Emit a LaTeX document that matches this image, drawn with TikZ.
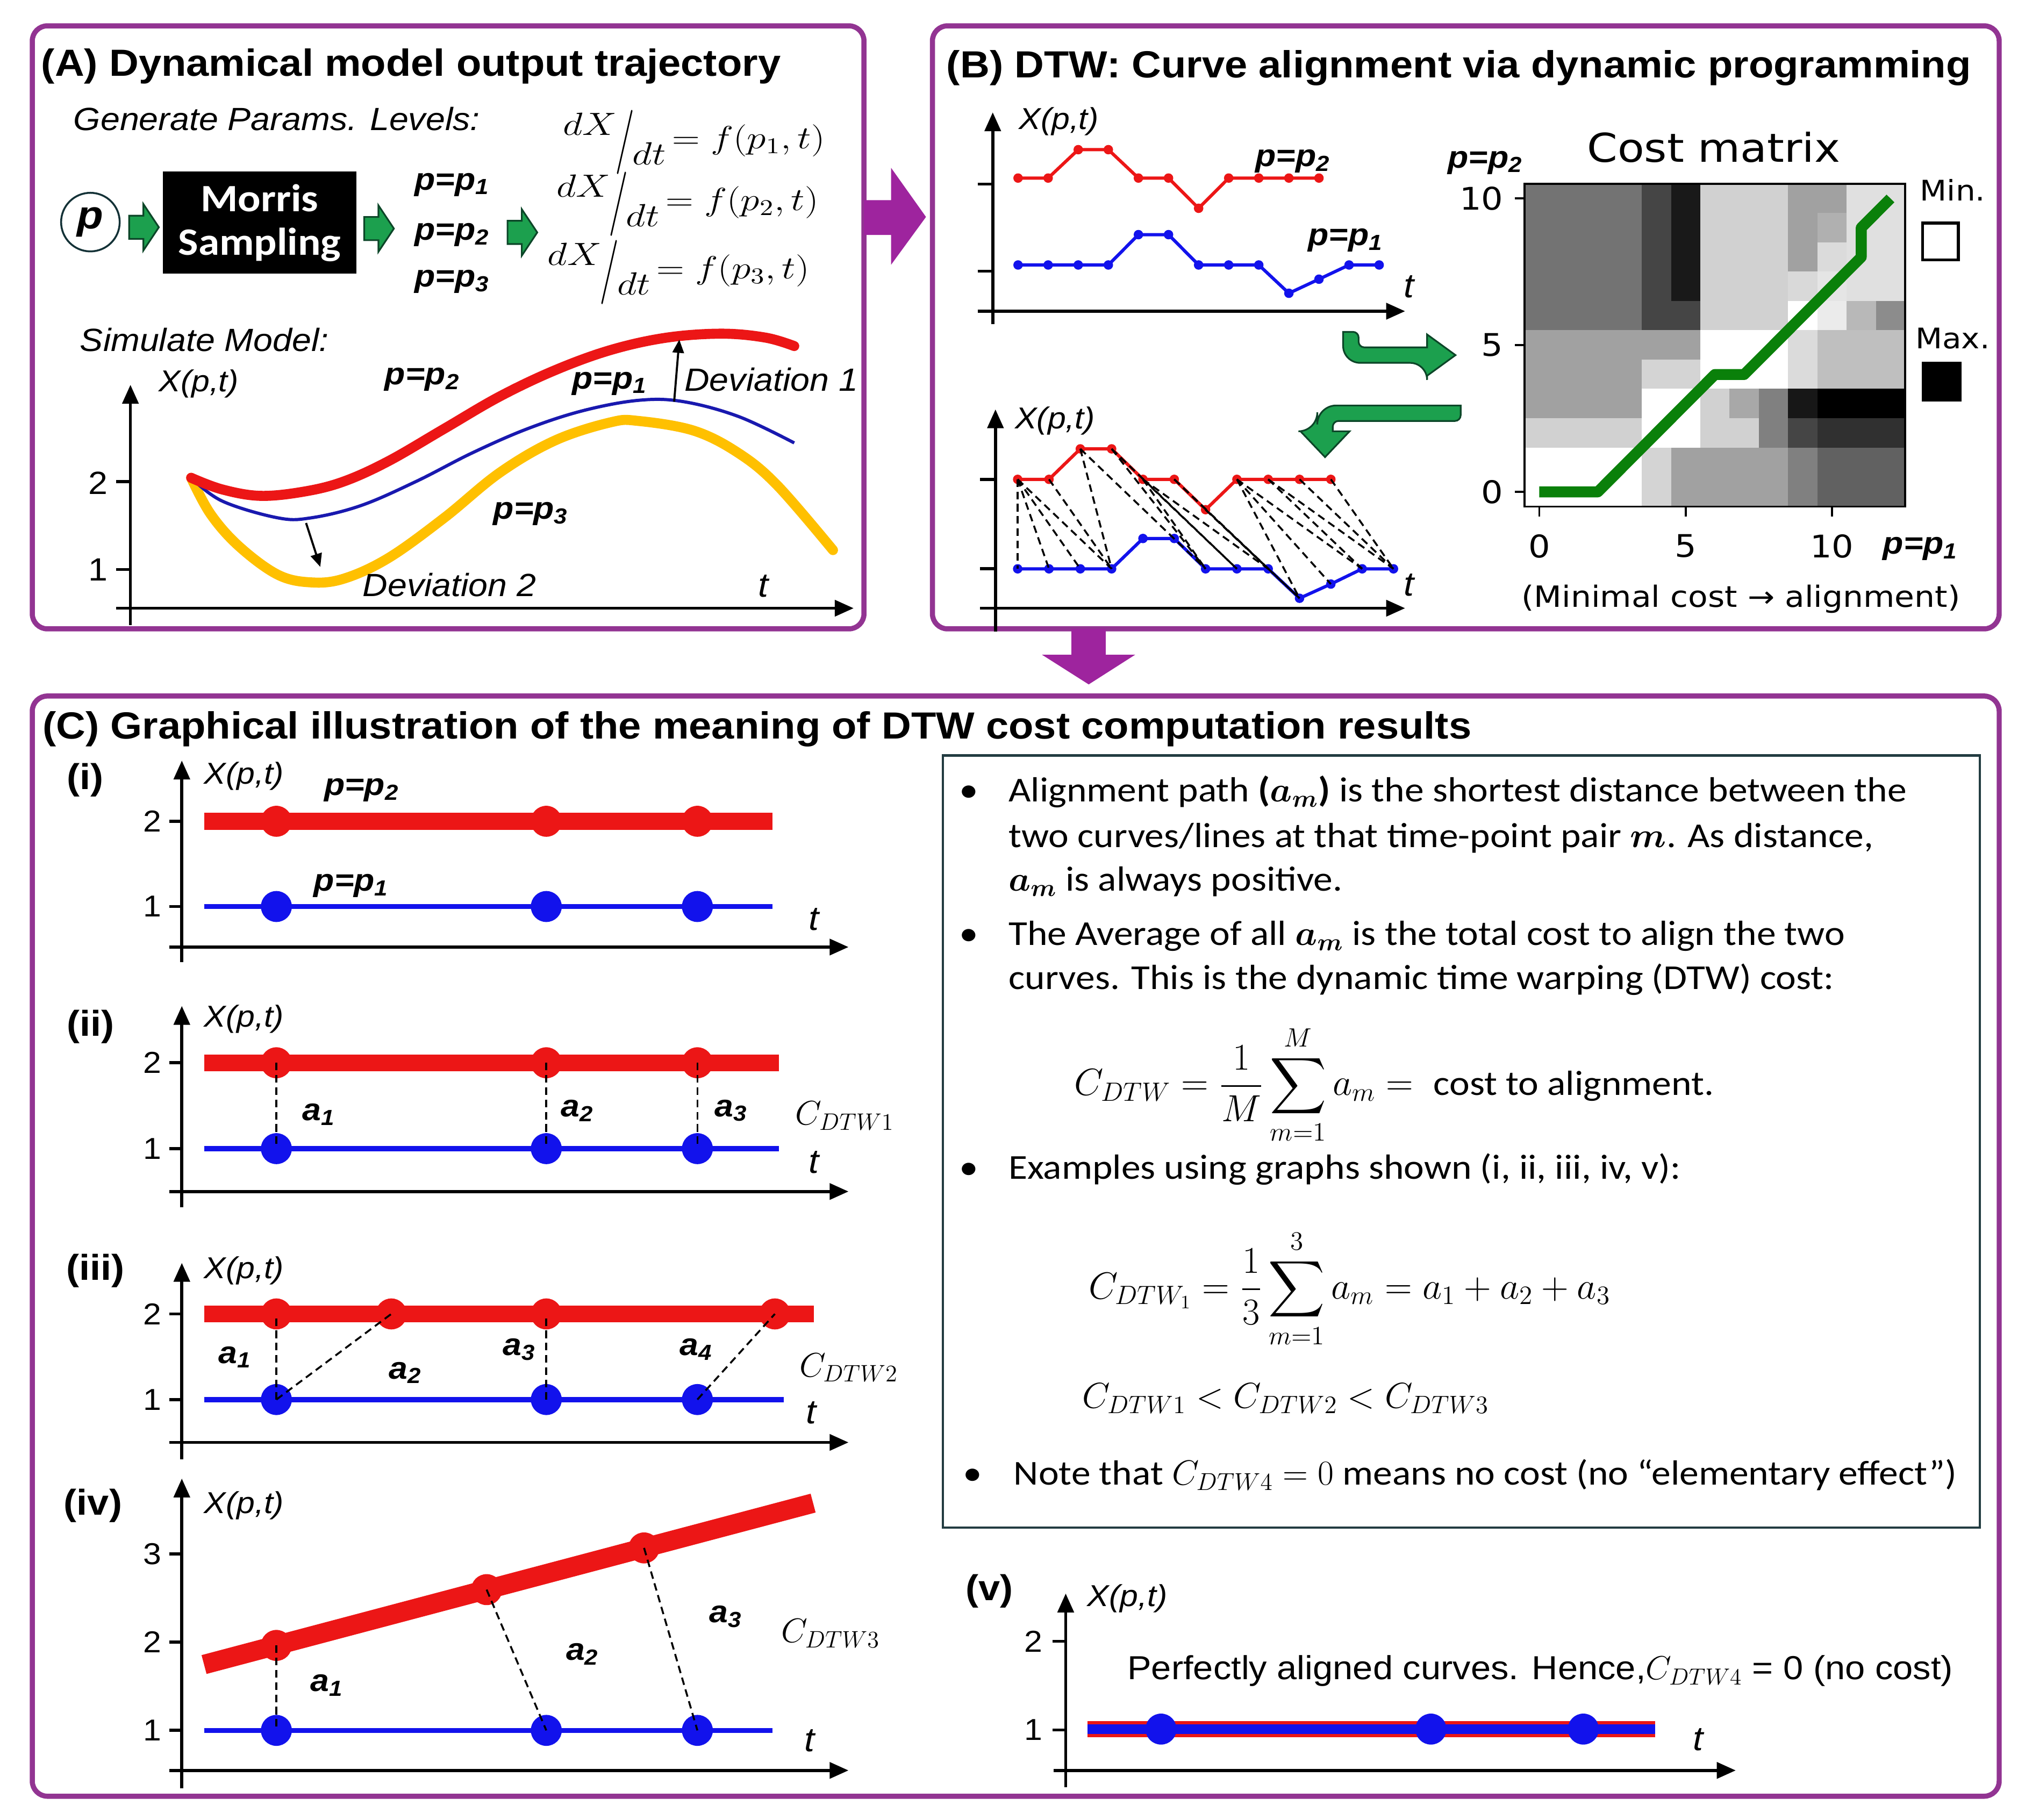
\RequirePackage{fix-cm}
\documentclass[tikz,border=0pt]{standalone}
\usepackage{fontspec}
\usepackage{amsmath}
\usepackage{bm}
\usepackage{graphicx}
\setmainfont{Liberation Sans}[FakeStretch=1.08]
\newfontfamily\cfont{Carlito}[FakeStretch=1.1]
\newfontfamily\dvs{DejaVu Sans}[FakeStretch=1.1]
\usetikzlibrary{arrows.meta}
\definecolor{pborder}{RGB}{146,52,146}
\definecolor{pfill}{RGB}{158,36,158}
\definecolor{garr}{RGB}{28,160,78}
\definecolor{gdark}{RGB}{12,70,40}
\definecolor{cred}{RGB}{236,22,22}
\definecolor{cblue}{RGB}{18,18,236}
\definecolor{ablue}{RGB}{25,25,175}
\definecolor{cyel}{RGB}{255,192,0}
\definecolor{mgreen}{RGB}{10,128,10}
\definecolor{tbox}{RGB}{35,60,65}
\definecolor{cdark}{RGB}{20,50,55}
\newcommand{\fsz}[1]{\fontsize{#1}{#1}\selectfont}
\newcommand{\dxdt}{\raisebox{0.42em}{$dX$}\kern-0.05em\raisebox{-0.3em}{\scalebox{1.1}[2.0]{$/$}}\kern-0.05em\raisebox{-0.5em}{$dt$}}
\newcommand{\gblk}[2]{\draw[garrow] (#1,{#2-9}) -- ({#1+11},{#2-9}) -- ({#1+11},{#2-18}) -- ({#1+23},#2) -- ({#1+11},{#2+18}) -- ({#1+11},{#2+9}) -- (#1,{#2+9}) -- cycle;}
\begin{document}
\begin{tikzpicture}[x=0.024024cm, y=-0.024024cm,
  lbl/.style={inner sep=0pt, outer sep=0pt},
  ttl/.style={lbl, anchor=base west, font=\fsz{20}\bfseries},
  itl/.style={lbl, font=\fsz{17}\itshape},
  xpt/.style={lbl, anchor=west, font=\fsz{16}\itshape},
  bit/.style={lbl, font=\fsz{16.5}\bfseries\itshape},
  tk/.style={lbl, font=\fsz{16}},
  rom/.style={lbl, font=\fsz{19}\bfseries},
  cml/.style={lbl, anchor=west, font=\fsz{18}},
  panel/.style={draw=pborder, line width=2.7pt, rounded corners=8pt},
  parr/.style={fill=pfill, draw=none},
  garrow/.style={fill=garr, draw=gdark, line width=0.9pt},
  axarr/.style={line width=1.6pt, -{Triangle[length=10pt,width=8.5pt]}},
  tkl/.style={line width=1.6pt},
  rsm/.style={circle, fill=cred, inner sep=0pt, minimum size=5pt},
  bsm/.style={circle, fill=cblue, inner sep=0pt, minimum size=5pt},
  rbig/.style={circle, fill=cred, inner sep=0pt, minimum size=16.4pt},
  bbig/.style={circle, fill=cblue, inner sep=0pt, minimum size=16.4pt},
  rthin/.style={draw=cred, line width=1.7pt, line join=round},
  bthin/.style={draw=cblue, line width=1.7pt, line join=round},
  dsh/.style={draw=black, line width=1pt, dash pattern=on 4pt off 2.5pt},
  devarr/.style={line width=1.1pt, -{Triangle[length=7pt,width=6pt]}},
  body/.style={lbl, anchor=base west, font=\cfont\fsz{18.5}},
  bul/.style={lbl, anchor=base, font=\cfont\fsz{18.5}}
]
\useasboundingbox (0,0) rectangle (1568,1409);
\fill[white] (0,0) rectangle (1568,1409);

% ================= panels =================
\draw[panel] (25,20) rectangle (669,487);
\draw[panel] (722,20) rectangle (1548,487);
\draw[panel] (25,539) rectangle (1548,1391);
\fill[parr] (669,155) -- (690,155) -- (690,130) -- (717,168) -- (690,205) -- (690,182) -- (669,182) -- cycle;
\fill[parr] (829.6,487) -- (856.2,487) -- (856.2,507) -- (879,507) -- (843,530) -- (806.8,507) -- (829.6,507) -- cycle;

% ================= panel A =================
\node[ttl] (tA) at (32,59) {(A) Dynamical model output trajectory};
\node[itl, anchor=west] (gen) at (57,92) {Generate Params. Levels:};
\node[circle, draw=cdark, line width=1pt, minimum size=31pt, inner sep=0pt, font=\fsz{21}\bfseries\itshape] (pc) at (70,172) {p};
\gblk{100}{176}
\node[fill=black, minimum width=102.5pt, minimum height=54pt, inner sep=0pt, text=white, align=center, font=\cfont\bfseries\fontsize{20.5}{23}\selectfont] (ms) at (201,172.5) {Morris\\Sampling};
\gblk{282}{177}
\node[bit] (lp1) at (350,143) {p=p\textsubscript{1}};
\node[bit] (lp2) at (350,182) {p=p\textsubscript{2}};
\node[bit] (lp3) at (350,218) {p=p\textsubscript{3}};
\gblk{393}{180}
\node[lbl, anchor=west] (e1) at (436,110) {\fsz{17}\scalebox{1.2}[1]{\dxdt\,$= f(p_1,t)$}};
\node[lbl, anchor=west] (e2) at (431,158) {\fsz{17}\scalebox{1.2}[1]{\dxdt\,$= f(p_2,t)$}};
\node[lbl, anchor=west] (e3) at (424,211) {\fsz{17}\scalebox{1.2}[1]{\dxdt\,$= f(p_3,t)$}};
\node[itl, anchor=west] (sim) at (62,263) {Simulate Model:};
\coordinate (Ayb) at (101,484); \coordinate (Ayt) at (101,298);
\coordinate (Axl) at (90,471); \coordinate (Axr) at (661,471);
\draw[axarr] (Ayb) -- (Ayt);
\draw[axarr] (Axl) -- (Axr);
\draw[tkl] (90,373) -- (101,373);
\draw[tkl] (90,441) -- (101,441);
\node[tk, font=\fsz{17}] (A2) at (76,374) {2};
\node[tk, font=\fsz{17}] (A1) at (76,441) {1};
\node[xpt] (Axp) at (123,297) {X(p,t)};
\draw[cyel, line width=5.3pt, line cap=round] plot[smooth, tension=0.6] coordinates {(148,370) (163,398) (185,423) (215,445) (241,451) (266.6,448) (301,432) (344,401) (387,366) (430,341) (473,327) (494.5,326) (537.5,333.6) (572,351) (602,376) (645,426)};
\draw[ablue, line width=1.7pt] plot[smooth, tension=0.6] coordinates {(148,370) (172,388) (215,401) (241,401) (279.5,391.5) (322.5,372.7) (365.5,350.8) (408.5,332) (451.5,318) (494.5,310) (529,311) (572,322.6) (615,343)};
\draw[cred, line width=5.3pt, line cap=round] plot[smooth, tension=0.6] coordinates {(148,370) (172,379) (202,384) (236.5,380.5) (266.6,372.7) (301,357) (344,332) (387,307) (430,286.6) (473,271) (516,261.5) (559,258.4) (593,261.5) (615,268)};
\draw[devarr] (522,311) -- (526,263);
\draw[devarr] (237,405) -- (248,439);
\node[bit] (Lp2) at (327,294) {p=p\textsubscript{2}};
\node[bit] (Lp1) at (472,297) {p=p\textsubscript{1}};
\node[itl, anchor=west] (dv1) at (530,294) {Deviation 1};
\node[bit] (Lp3) at (411,398) {p=p\textsubscript{3}};
\node[itl] (dv2) at (348,453) {Deviation 2};
\node[itl, font=\fsz{18}\itshape] (At) at (591,454) {t};

% ================= panel B =================
\node[ttl] (tB) at (733,60) {(B) DTW: Curve alignment via dynamic programming};
% top plot
\coordinate (B1yb) at (768.7,251); \coordinate (B1yt) at (768.7,87);
\coordinate (B1xl) at (757,241); \coordinate (B1xr) at (1088,241);
\draw[axarr] (B1yb) -- (B1yt);
\draw[axarr] (B1xl) -- (B1xr);
\draw[tkl] (757,142.5) -- (768.7,142.5);
\draw[tkl] (757,210) -- (768.7,210);
\node[xpt] (B1xp) at (789,94) {X(p,t)};
\foreach \i/\yy in {0/137.9,1/137.9,2/115.9,3/115.9,4/137.9,5/137.9,6/161.3,7/137.9,8/137.9,9/137.9,10/137.9}
  \node[rsm] (tr\i) at ({788.3+23.3*\i},\yy) {};
\foreach \i/\yy in {0/205.2,1/205.2,2/205.2,3/205.2,4/181.7,5/181.7,6/205.2,7/205.2,8/205.2,9/227.1,10/216.2,11/205.2,12/205.2}
  \node[bsm] (tb\i) at ({788.3+23.3*\i},\yy) {};
\draw[rthin] (tr0.center) \foreach \i in {1,...,10} { -- (tr\i.center) };
\draw[bthin] (tb0.center) \foreach \i in {1,...,12} { -- (tb\i.center) };
\node[bit] (B1p2) at (1001,125) {p=p\textsubscript{2}};
\node[bit] (B1p1) at (1042,186) {p=p\textsubscript{1}};
\node[itl, font=\fsz{18}\itshape] (B1t) at (1091,222) {t};
% bottom plot
\coordinate (B2yb) at (770.8,489); \coordinate (B2yt) at (770.8,317);
\coordinate (B2xl) at (759,471); \coordinate (B2xr) at (1088,471);
\draw[axarr] (B2yb) -- (B2yt);
\draw[axarr] (B2xl) -- (B2xr);
\draw[tkl] (759,371.2) -- (770.8,371.2);
\draw[tkl] (759,440.5) -- (770.8,440.5);
\node[xpt] (B2xp) at (786,326) {X(p,t)};
\foreach \i/\yy in {0/371.2,1/371.2,2/347.6,3/347.6,4/371.2,5/371.2,6/394.7,7/371.2,8/371.2,9/371.2,10/371.2}
  \node[rsm] (br\i) at ({788+24.25*\i},\yy) {};
\foreach \i/\yy in {0/440.5,1/440.5,2/440.5,3/440.5,4/417,5/417,6/440.5,7/440.5,8/440.5,9/463.3,10/452.3,11/440.5,12/440.5}
  \node[bsm] (bb\i) at ({788+24.25*\i},\yy) {};
\draw[rthin] (br0.center) \foreach \i in {1,...,10} { -- (br\i.center) };
\draw[bthin] (bb0.center) \foreach \i in {1,...,12} { -- (bb\i.center) };
\foreach \j/\i in {0/0,0/1,0/2,0/3,1/3,2/3,2/6,3/6,3/7,4/6,4/7,4/8,5/8,5/9,6/8,6/9,7/9,7/10,7/11,8/11,8/12,9/12,10/12}
  \draw[dsh] (br\j.center) -- (bb\i.center);
\node[itl, font=\fsz{18}\itshape] (B2t) at (1091,453) {t};
% green bent arrows
\draw[garrow] (1040,257) [rounded corners=9] -- (1040,281) -- (1105,281) [sharp corners] -- (1105,291) -- (1127,275) -- (1105,259) -- (1105,269) [rounded corners=3] -- (1052,269) -- (1052,257) [sharp corners] -- cycle;
\draw[garrow] (1131,314) [rounded corners=10] -- (1020,314) -- (1020,334) [sharp corners] -- (1007,334) -- (1026,354) -- (1045,334) -- (1032,334) [rounded corners=3] -- (1032,326) -- (1131,326) [sharp corners] -- cycle;
% cost matrix
\foreach \r/\vals in {
 10/{55,55,55,55,73,90,18,18,18,37,37,12,12},
 9/{55,55,55,55,73,90,18,18,18,37,31,12,12},
 8/{55,55,55,55,73,90,18,18,18,37,14,12,12},
 7/{55,55,55,55,73,90,18,18,18,15,10,12,12},
 6/{55,55,55,55,73,73,18,18,18,0,8,28,45},
 5/{37,37,37,37,37,37,0,0,0,14,25,25,25},
 4/{37,37,37,37,17,17,0,0,0,14,25,25,25},
 3/{37,37,37,37,0,0,18,34,50,91,100,100,100},
 2/{18,18,18,18,0,0,18,18,50,73,81,81,81},
 1/{0,0,0,0,17,37,37,37,37,50,62,62,62},
 0/{0,0,0,0,17,37,37,37,37,50,62,62,62}}{
  \foreach \v [count=\ci from 0] in \vals {
    \fill[black!\v] ({1180.6+22.66*\ci},{392.3-22.72*\r}) rectangle ({1180.6+22.66*(\ci+1)+0.3},{392.3-22.72*(\r+1)-0.3});
  }
}
\draw[line width=1.1pt] (1180.6,142.4) rectangle (1475.3,392.3);
\draw[mgreen, line width=5.8pt, line join=round] ({1191.9},{380.9}) -- ({1191.9+22.66*2},{380.9}) -- ({1191.9+22.66*6},{380.9-22.72*4}) -- ({1191.9+22.66*7},{380.9-22.72*4}) -- ({1191.9+22.66*11},{380.9-22.72*8}) -- ({1191.9+22.66*11},{380.9-22.72*9}) -- ({1191.9+22.66*12},{380.9-22.72*10});
\foreach \k in {0,5,10} {
  \draw[line width=1.1pt] (1173,{380.9-22.72*\k}) -- (1180.6,{380.9-22.72*\k});
  \draw[line width=1.1pt] ({1191.9+22.66*\k},392.3) -- ({1191.9+22.66*\k},400);
  \node[lbl, anchor=east, font=\dvs\fsz{16.5}] (my\k) at (1164,{380.9-22.72*\k}) {\k};
  \node[lbl, font=\dvs\fsz{16.5}] (mx\k) at ({1191.9+22.66*\k},423) {\k};
}
\node[lbl, font=\dvs\fsz{21}] (cmt) at (1327,114) {Cost matrix};
\node[bit] (mp2) at (1150,126) {p=p\textsubscript{2}};
\node[bit] (mp1) at (1487,425) {p=p\textsubscript{1}};
\node[lbl, font=\dvs\fsz{15}] (mmin) at (1512,147) {Min.};
\node[lbl, font=\dvs\fsz{15}] (mmax) at (1512,262) {Max.};
\node[draw=black, line width=1.5pt, fill=white, minimum width=19pt, minimum height=19.5pt, inner sep=0pt] (bmin) at (1502.5,187) {};
\node[fill=black, minimum width=21pt, minimum height=21pt, inner sep=0pt] (bmax) at (1503.5,295.5) {};
\node[lbl, font=\dvs\fsz{15.5}] (mcap) at (1348,464) {(Minimal cost → alignment)};

% ================= panel C =================
\node[ttl] (tC) at (33,572) {(C) Graphical illustration of the meaning of DTW cost computation results};
% (i)
\node[rom] (ri) at (66,604) {(i)};
\coordinate (C1yb) at (140.8,745); \coordinate (C1yt) at (140.8,589);
\coordinate (C1xl) at (131,733.4); \coordinate (C1xr) at (657,733.4);
\draw[axarr] (C1yb) -- (C1yt);
\draw[axarr] (C1xl) -- (C1xr);
\draw[tkl] (131,636) -- (140.8,636);
\draw[tkl] (131,702) -- (140.8,702);
\node[tk] (c1t2) at (118,636) {2};
\node[tk] (c1t1) at (118,702) {1};
\node[xpt] (c1xp) at (158,601) {X(p,t)};
\draw[cred, line width=8.9pt] (158,636) -- (598,636);
\draw[cblue, line width=2.7pt] (158,702) -- (598,702);
\foreach \n/\xx in {1/214,2/423,3/540} {
  \node[rbig] (ir\n) at (\xx,636) {};
  \node[bbig] (ib\n) at (\xx,702) {};
}
\node[bit] (c1p2) at (280,612) {p=p\textsubscript{2}};
\node[bit] (c1p1) at (272,686) {p=p\textsubscript{1}};
\node[itl, font=\fsz{18}\itshape] (c1t) at (630,712) {t};
% (ii)
\node[rom] (rii) at (70,795) {(ii)};
\coordinate (C2yb) at (140.8,935); \coordinate (C2yt) at (140.8,779);
\coordinate (C2xl) at (131,922.7); \coordinate (C2xr) at (657,922.7);
\draw[axarr] (C2yb) -- (C2yt);
\draw[axarr] (C2xl) -- (C2xr);
\draw[tkl] (131,823) -- (140.8,823);
\draw[tkl] (131,889.5) -- (140.8,889.5);
\node[tk] (c2t2) at (118,823) {2};
\node[tk] (c2t1) at (118,889.5) {1};
\node[xpt] (c2xp) at (158,789) {X(p,t)};
\draw[cred, line width=8.9pt] (158,823) -- (603,823);
\draw[cblue, line width=2.7pt] (158,889.5) -- (603,889.5);
\foreach \n/\xx in {1/214,2/423,3/540} {
  \node[rbig] (iir\n) at (\xx,823) {};
  \node[bbig] (iib\n) at (\xx,889.5) {};
  \draw[dsh] (iir\n.center) -- (iib\n.center);
}
\node[bit] (c2a1) at (247,863) {a\textsubscript{1}};
\node[bit] (c2a2) at (447,860) {a\textsubscript{2}};
\node[bit] (c2a3) at (566,860) {a\textsubscript{3}};
\node[cml] (c2c) at (616,864) {$C_{DTW1}$};
\node[itl, font=\fsz{18}\itshape] (c2t) at (630,900) {t};
% (iii)
\node[rom] (riii) at (74,984) {(iii)};
\coordinate (C3yb) at (140.8,1130); \coordinate (C3yt) at (140.8,978);
\coordinate (C3xl) at (131,1117); \coordinate (C3xr) at (657,1117);
\draw[axarr] (C3yb) -- (C3yt);
\draw[axarr] (C3xl) -- (C3xr);
\draw[tkl] (131,1017.5) -- (140.8,1017.5);
\draw[tkl] (131,1083.8) -- (140.8,1083.8);
\node[tk] (c3t2) at (118,1017.5) {2};
\node[tk] (c3t1) at (118,1083.8) {1};
\node[xpt] (c3xp) at (158,984) {X(p,t)};
\draw[cred, line width=8.9pt] (158,1017.5) -- (630,1017.5);
\draw[cblue, line width=2.7pt] (158,1083.8) -- (607,1083.8);
\foreach \n/\xx in {1/214,2/303,3/423,4/600} \node[rbig] (iiir\n) at (\xx,1017.5) {};
\foreach \n/\xx in {1/214,2/423,3/540} \node[bbig] (iiib\n) at (\xx,1083.8) {};
\draw[dsh] (iiib1.center) -- (iiir1.center);
\draw[dsh] (iiib1.center) -- (iiir2.center);
\draw[dsh] (iiib2.center) -- (iiir3.center);
\draw[dsh] (iiib3.center) -- (iiir4.center);
\node[bit] (c3a1) at (182,1051) {a\textsubscript{1}};
\node[bit] (c3a2) at (314,1063) {a\textsubscript{2}};
\node[bit] (c3a3) at (402,1045) {a\textsubscript{3}};
\node[bit] (c3a4) at (539,1045) {a\textsubscript{4}};
\node[cml] (c3c) at (619,1059) {$C_{DTW2}$};
\node[itl, font=\fsz{18}\itshape] (c3t) at (628,1094) {t};
% (iv)
\node[rom] (riv) at (72,1166) {(iv)};
\coordinate (C4yb) at (140.8,1385); \coordinate (C4yt) at (140.8,1145);
\coordinate (C4xl) at (131,1371); \coordinate (C4xr) at (657,1371);
\draw[axarr] (C4yb) -- (C4yt);
\draw[axarr] (C4xl) -- (C4xr);
\draw[tkl] (131,1203.3) -- (140.8,1203.3);
\draw[tkl] (131,1271.7) -- (140.8,1271.7);
\draw[tkl] (131,1340) -- (140.8,1340);
\node[tk] (c4t3) at (118,1203.3) {3};
\node[tk] (c4t2) at (118,1271.7) {2};
\node[tk] (c4t1) at (118,1340) {1};
\node[xpt] (c4xp) at (158,1166) {X(p,t)};
\draw[cred, line width=10.3pt] (158,1289) -- (629.6,1164);
\draw[cblue, line width=2.7pt] (158,1340) -- (598,1340);
\node[rbig] (ivr1) at (214,1274.2) {};
\node[rbig] (ivr2) at (376.8,1231) {};
\node[rbig] (ivr3) at (498.7,1198.7) {};
\foreach \n/\xx in {1/214,2/423,3/540} \node[bbig] (ivb\n) at (\xx,1340) {};
\foreach \n in {1,2,3} \draw[dsh] (ivr\n.center) -- (ivb\n.center);
\node[bit] (c4a1) at (253,1305) {a\textsubscript{1}};
\node[bit] (c4a2) at (451,1281) {a\textsubscript{2}};
\node[bit] (c4a3) at (562,1252) {a\textsubscript{3}};
\node[cml] (c4c) at (605,1265) {$C_{DTW3}$};
\node[itl, font=\fsz{18}\itshape] (c4t) at (627,1348) {t};
% (v)
\node[rom] (rv) at (766,1232) {(v)};
\coordinate (C5yb) at (825.2,1384); \coordinate (C5yt) at (825.2,1234);
\coordinate (C5xl) at (816,1371); \coordinate (C5xr) at (1344,1371);
\draw[axarr] (C5yb) -- (C5yt);
\draw[axarr] (C5xl) -- (C5xr);
\draw[tkl] (815,1271) -- (825.2,1271);
\draw[tkl] (815,1339.7) -- (825.2,1339.7);
\node[tk] (c5t2) at (800,1271) {2};
\node[tk] (c5t1) at (800,1339.7) {1};
\node[xpt] (c5xp) at (842,1238) {X(p,t)};
\draw[cred, line width=8.5pt] (842,1339) -- (1281.5,1339);
\draw[cblue, line width=5pt] (842,1339) -- (1281.5,1339);
\foreach \n/\xx in {1/899,2/1108,3/1226} \node[bbig] (vb\n) at (\xx,1339) {};
\node[lbl, anchor=west, font=\fsz{17.6}] (c5txt) at (873,1294) {Perfectly aligned curves. Hence,$C_{DTW4}$ = 0 (no cost)};
\node[itl, font=\fsz{18}\itshape] (c5t) at (1315,1347) {t};

% ================= text box =================
\draw[tbox, line width=1.3pt] (730,585) rectangle (1533,1183);
\node[bul] (bu1) at (750,621) {•};
\node[body] (L1) at (781,621) {Alignment path \textbf{(}$\bm{a_m}$\textbf{)} is the shortest distance between the};
\node[body] (L2) at (781,656) {two curves/lines at that time-point pair $\bm{m}$. As distance,};
\node[body] (L3) at (781,690) {$\bm{a_m}$ is always positive.};
\node[bul] (bu2) at (750,732) {•};
\node[body] (L4) at (781,732) {The Average of all $\bm{a_m}$ is the total cost to align the two};
\node[body] (L5) at (781,766) {curves. This is the dynamic time warping (DTW) cost:};
\node[lbl, anchor=west, font=\fsz{20}] (Eq1) at (832,840) {$\displaystyle C_{DTW} = \frac{1}{M}\sum_{m=1}^{M} a_m =$ {\cfont\fsz{18.5} cost to alignment.}};
\node[bul] (bu3) at (750,913) {•};
\node[body] (L6) at (781,913) {Examples using graphs shown (i, ii, iii, iv, v):};
\node[lbl, anchor=west, font=\fsz{20}] (Eq2) at (843,998) {$\displaystyle C_{DTW_1} = \frac{1}{3}\sum_{m=1}^{3} a_m = a_1 + a_2 + a_3$};
\node[lbl, anchor=west, font=\fsz{19}] (Eq3) at (838,1083) {$C_{DTW1} < C_{DTW2} < C_{DTW3}$};
\node[bul] (bu4) at (753,1150) {•};
\node[body] (L7) at (785,1150) {Note that $C_{DTW4} = 0$ means no cost (no “elementary effect”)};
\end{tikzpicture}
\end{document}
